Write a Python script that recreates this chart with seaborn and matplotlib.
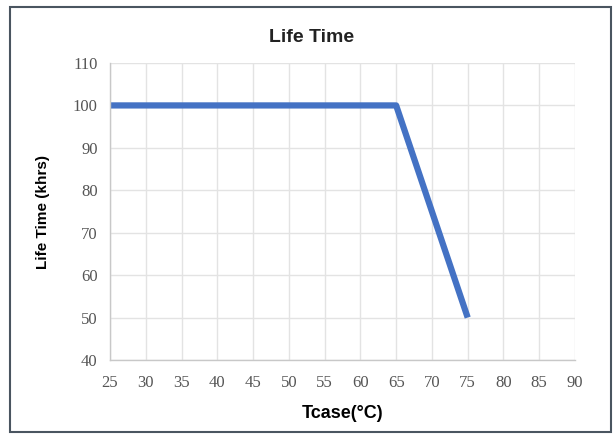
import numpy as np
import matplotlib
matplotlib.use('Agg')
import matplotlib.pyplot as plt
import pandas as pd
import seaborn as sns
from matplotlib.patches import Rectangle

# dane
tcase = [25, 65, 75]
life_khrs = [100, 100, 50]
x_ticks = list(range(25, 95, 5))
y_ticks = list(range(40, 120, 10))

df = pd.DataFrame({'Tcase': tcase, 'Life': life_khrs})

sns.set_style('white')
fig = plt.figure(figsize=(6.14, 4.36), dpi=100)
ax = fig.add_axes([110 / 614, 76 / 436, 465 / 614, 297 / 436])

sns.lineplot(data=df, x='Tcase', y='Life', ax=ax, color='#4472C4', linewidth=4.5)
for ln in ax.lines:
    ln.set_solid_capstyle('butt')

ax.set_xlim(25, 90)
ax.set_ylim(40, 110)
ax.set_xticks(x_ticks)
ax.set_yticks(y_ticks)
ax.grid(True, color='#e3e3e3', linewidth=1)
ax.set_axisbelow(True)
for s in ['top', 'right']:
    ax.spines[s].set_visible(False)
for s in ['left', 'bottom']:
    ax.spines[s].set_color('#c8c8c8')
    ax.spines[s].set_linewidth(1)
ax.tick_params(length=0, labelsize=12, colors='#555555')
ax.tick_params(axis='x', pad=11)
ax.tick_params(axis='y', pad=9)
for lbl in ax.get_xticklabels() + ax.get_yticklabels():
    lbl.set_family('Liberation Serif')

ax.set_xlabel('Tcase(°C)', fontsize=13, fontweight='bold', family='Liberation Sans', labelpad=10,
              color='black')
ax.set_ylabel('Life Time (khrs)', fontsize=11, fontweight='bold', family='Liberation Sans', labelpad=16,
              color='black')
fig.text(312 / 614, 1 - 38 / 436, 'Life Time', ha='center', va='center',
         fontsize=14, fontweight='bold', family='Liberation Sans', color='#222222')

# ramka wokol calego wykresu
fig.patches.append(Rectangle((10 / 614, 4 / 436), 601 / 614, 425 / 436, transform=fig.transFigure,
                             fill=False, edgecolor='#4a5560', linewidth=1.5))

plt.savefig('out.png', dpi=100)
